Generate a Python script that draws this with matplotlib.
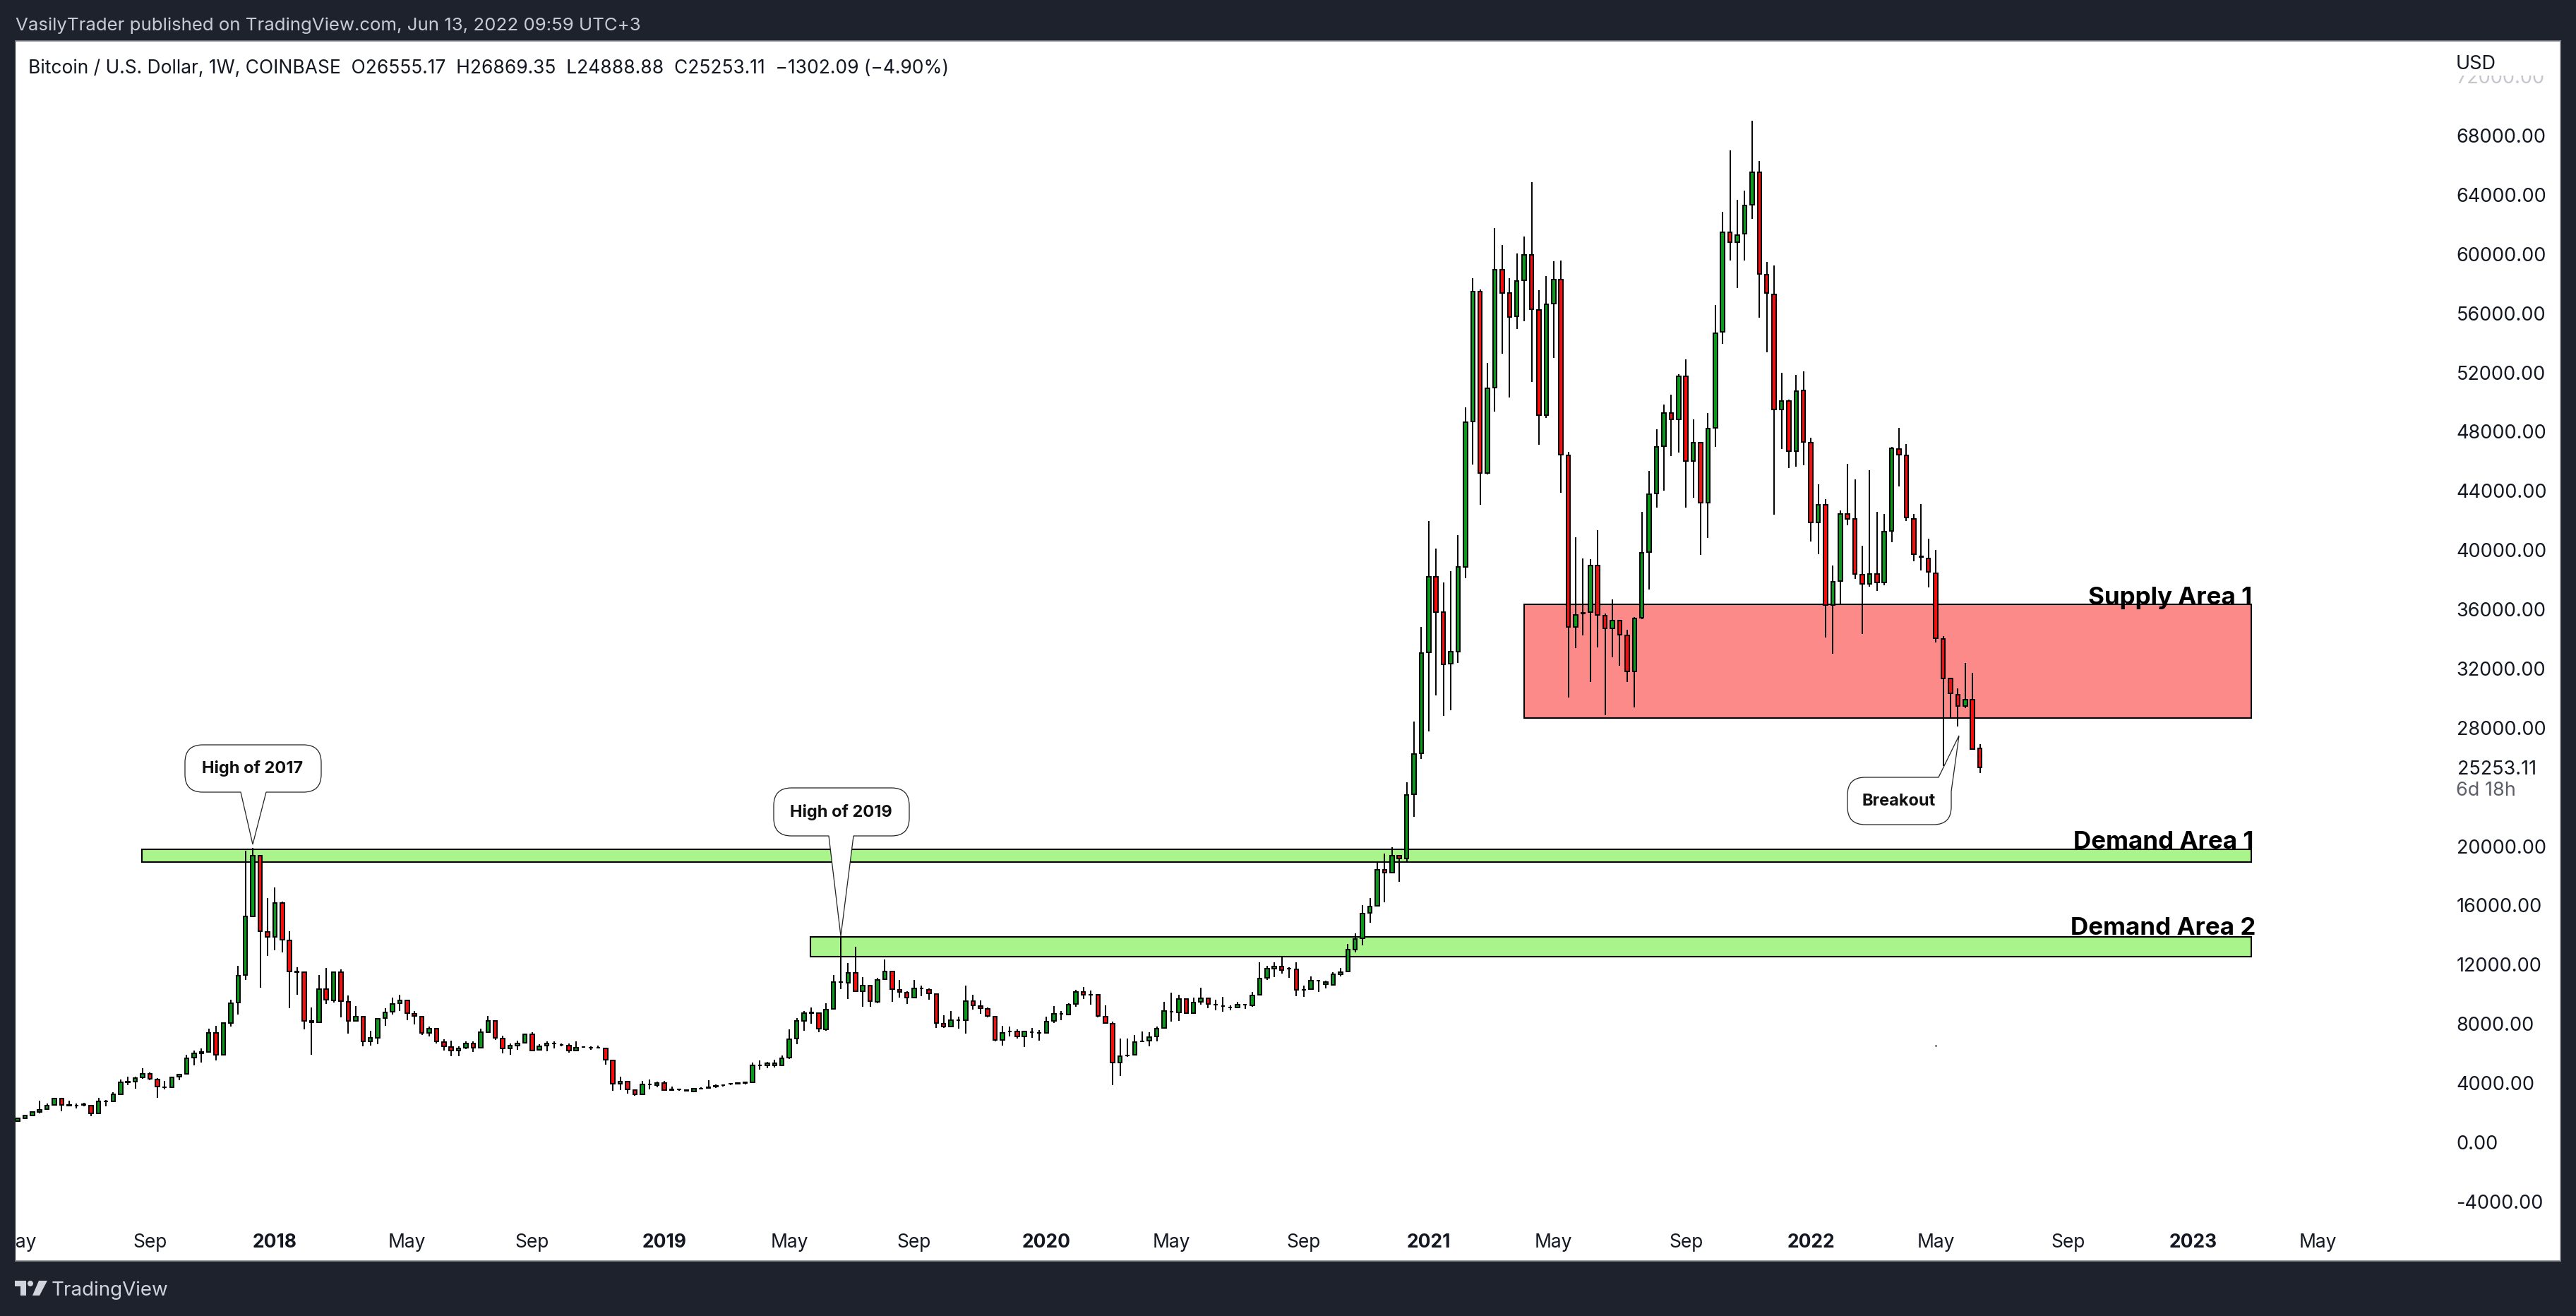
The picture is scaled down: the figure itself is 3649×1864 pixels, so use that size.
import matplotlib
matplotlib.use('Agg')
import matplotlib.pyplot as plt
from matplotlib.patches import Rectangle, PathPatch, Polygon, Circle
from matplotlib.path import Path
from matplotlib.transforms import Affine2D, Bbox

# Weekly candles, BTC/USD
opens = [1370,1550,1750,2020,2210,2470,2920,2470,2450,2490,
         2450,1900,2700,2720,3190,4020,4040,4320,4580,4220,
         3680,3680,4370,4580,5660,5940,6070,7350,5860,7990,
         9390,11240,15230,19330,14180,13820,16140,13590,11480,11460,
         8140,8050,10310,9560,11430,9450,8140,8430,6770,7000,
         8330,8770,9330,9540,8630,8460,7330,7650,6710,6390,
         6150,6320,6640,6340,7410,8160,6980,6300,6470,6670,
         7260,6180,6470,6620,6550,6480,6150,6380,6360,6350,
         6300,5480,3900,4070,3490,3190,3850,3810,3960,3510,
         3520,3430,3370,3580,3650,3740,3800,3890,3930,3950,
         4020,5170,5150,5130,5150,5660,6960,8160,8690,8690,
         7600,8950,10770,10750,11410,10140,10560,9460,10950,11500,
         10260,10070,9710,10340,10270,9970,7970,7790,8220,8200,
         9500,9160,8970,8450,6860,7450,7450,7090,7400,7340,
         7330,8140,8630,8580,9290,10120,9930,9930,8450,7970,
         5340,5810,5860,6770,6840,7090,7670,8780,8710,9610,
         8670,9430,9690,9260,9170,9080,9070,9240,9200,9920,
         11050,11670,11840,11670,11650,10260,10290,10860,10640,10610,
         11310,11480,12990,13730,15440,15930,18360,18160,19330,19140,
         23480,26220,33040,38130,35750,32270,33110,38830,48660,57430,
         45180,50940,58900,57300,55760,58200,59900,56190,49070,56590,
         58230,46360,34750,35680,35780,38930,35520,34680,35180,34180,
         31770,35390,39800,43780,46960,49200,48800,51710,45990,47190,
         43180,48200,54690,61440,60770,61310,63280,65460,58560,57230,
         49470,50000,46660,50740,47230,41840,43010,36250,37860,42380,
         42040,38300,37690,38360,37760,41270,46790,46360,42070,39530,
         39400,38400,33950,31270,30200,29430,29830,26555]
highs = [1620,1830,2070,2770,2560,2940,2960,2770,2580,2600,
         2490,2940,2830,3320,4190,4410,4390,4940,4660,4300,
         4090,4390,4600,5850,6130,6280,7620,7840,8050,9580,
         11860,19650,19850,19360,16460,17160,16230,14200,11800,11500,
         9070,11260,11730,11460,11630,9860,9140,8460,7480,8350,
         8990,9710,9900,9580,8840,8500,7750,7690,6900,6820,
         6450,6750,6750,7650,8480,8220,7130,6650,6820,7280,
         7370,6560,6790,6770,6650,6640,6750,6430,6430,6500,
         6320,5500,4370,4110,3540,4110,4190,4050,4110,3730,
         3600,3510,3640,3680,4130,3860,3880,3960,4020,4050,
         5320,5470,5390,5520,5810,7560,8330,8800,9070,8730,
         9330,11240,13880,12070,13140,11090,10610,11050,12290,11540,
         10900,10160,10900,10520,10330,10010,8540,8820,8450,10520,
         9900,9560,9070,8480,7840,7750,7600,7480,7670,7540,
         8450,9140,8820,9350,10240,10460,10200,9970,9180,8120,
         6940,6940,7220,7450,7410,7790,9430,10070,9900,9670,
         9710,10390,9750,9580,9770,9200,9430,9290,10090,12100,
         11880,12120,12460,11780,12090,10560,11140,10930,10860,11460,
         11730,13330,14070,15970,16460,18850,19440,19870,19380,24250,
         28360,34780,41940,40070,37790,38530,40970,49600,58300,57560,
         52610,61710,60570,58330,59970,61140,64820,57530,58460,59470,
         59530,46590,40840,39400,39330,41300,35690,36620,35250,34580,
         35420,42540,45320,48100,49770,50440,51840,52850,48760,47260,
         49230,56490,62810,66930,63620,64220,68970,66260,59430,59200,
         51940,50140,51810,52040,47530,44380,43410,38900,42640,45790,
         44720,40230,45350,42540,42380,46930,48200,47120,42380,43040,
         40740,39970,34150,31300,30600,32310,31670,26869]
lows = [1340,1510,1700,1900,2150,2450,2070,2390,2260,2390,
        1730,1880,2390,2680,3170,3810,3600,4240,4130,2980,
        3510,3660,4170,4540,5130,5350,6010,5500,5850,7790,
        8600,10930,15180,10410,12520,12930,12800,8990,9940,7560,
        5880,8030,9310,9410,8370,7310,8130,6450,6500,6600,
        7840,8600,8820,8220,7920,7220,7090,6650,6130,5770,
        5770,6240,6050,6320,7370,6880,5960,5860,6220,6650,
        6130,6150,6110,6300,6430,6030,6130,6320,6200,6280,
        5180,3450,3490,3220,3110,3170,3530,3660,3430,3450,
        3410,3370,3350,3540,3600,3640,3710,3810,3860,3860,
        4000,4880,4980,4990,5110,5560,6580,7470,7950,7390,
        7500,8940,10290,9650,10090,9090,9110,9370,10930,9460,
        9730,9290,9670,9840,9580,7670,7690,7750,7640,7310,
        8920,8630,8390,6790,6500,7090,6980,6410,7030,6820,
        7310,8030,8200,8560,9090,9620,9260,8410,7970,3830,
        4450,5710,5850,6750,6450,6750,7650,8130,8160,8650,
        8650,9260,9010,8880,8770,8880,9050,8970,9120,9900,
        10900,11120,11350,11070,9800,9780,10270,10120,10350,10560,
        11180,11440,12800,13240,14800,15870,16180,18100,17570,18950,
        21940,25850,27690,30130,28760,29160,32310,38060,45750,43010,
        45050,49330,53210,50270,54890,55390,51300,47060,48870,52910,
        43810,30000,33310,34180,31040,33380,28800,32710,32140,31040,
        29330,35280,37290,42810,43950,46290,46520,42810,43480,39630,
        40770,46930,53880,59500,57630,59500,62310,55660,53310,42340,
        46760,45490,45590,45690,40540,39670,34050,32940,36250,41640,
        37990,34310,37460,37190,37560,40500,44250,41910,39200,38560,
        37430,33710,25350,28630,28025,29260,26490,24889]
closes = [1550,1750,2020,2150,2450,2920,2470,2450,2430,2510,
          1900,2700,2740,3190,4020,4040,4300,4580,4240,3710,
          3660,4350,4540,5640,5940,6070,7350,5860,7990,9350,
          11220,15220,19330,14200,13820,16120,13630,11480,11460,8140,
          8050,10310,9580,11430,9480,8140,8430,6790,7000,8310,
          8730,9310,9540,8690,8480,7330,7650,6750,6430,6150,
          6300,6640,6340,7370,8160,7000,6300,6470,6640,7240,
          6170,6450,6640,6650,6530,6150,6350,6370,6350,6360,
          5520,3900,4070,3510,3190,3860,3840,3960,3470,3490,
          3510,3470,3560,3600,3630,3760,3810,3910,3950,3990,
          5170,5160,5280,5280,5640,6920,8160,8690,8710,7620,
          8940,10780,10760,11410,10140,10560,9480,10940,11500,10290,
          10110,9730,10350,10330,10010,8010,7790,8220,8210,9500,
          9220,9010,8500,6860,7350,7440,7090,7450,7410,7360,
          8110,8610,8640,9260,10120,9930,9920,8480,7990,5340,
          5790,5830,6730,6790,7070,7640,8820,8790,9610,8670,
          9410,9690,9290,9240,9150,9070,9260,9250,9880,11030,
          11670,11840,11610,11660,10260,10270,10880,10850,10760,11290,
          11460,12970,13690,15400,15890,18360,18180,19330,19120,23420,
          26185,33010,38130,35750,32240,33080,38800,48600,57430,45180,
          50900,58900,57300,55720,58130,59900,56220,49070,56560,58230,
          46390,34750,35590,35700,38930,35590,34680,35180,34250,31770,
          35320,39770,43710,46930,49200,48800,51710,45990,47190,43180,
          48160,54585,61440,60770,61210,63210,65460,58630,57300,49470,
          50000,46660,50670,47260,41810,43010,36250,37830,42380,42040,
          38330,37690,38360,37760,41200,46830,46420,42140,39670,39500,
          38460,34010,31300,30270,29430,29830,26520,25253]
assert len(opens) == len(highs) == len(lows) == len(closes) == 268

# Axis labels. 24000 is not shown, the last price label sits there
price_ticks = [-4000, 0, 4000, 8000, 12000, 16000, 20000, 28000, 32000, 36000, 40000,
               44000, 48000, 52000, 56000, 60000, 64000, 68000, 72000]
time_bars = [0, 18, 35, 53, 70, 88, 105, 122, 140, 157, 175, 192, 209, 227, 244, 261, 279, 296, 313]
time_labels = ['May', 'Sep', '2018', 'May', 'Sep', '2019', 'May', 'Sep', '2020', 'May', 'Sep',
               '2021', 'May', 'Sep', '2022', 'May', 'Sep', '2023', 'May']

# Zones drawn on the chart
zone_names = ['Supply Area 1', 'Demand Area 1', 'Demand Area 2']
zone_lows = [28636, 18884, 12494]
zone_highs = [36266, 19742, 13829]
zone_starts = [205.0, 16.95, 107.9]
zone_end = 303.9
zone_colors = ['#fc8a89', '#a9f58c', '#a9f58c']

W, H = 3649, 1865
DARK = '#1e222d'
UP = '#0a9a1c'
DOWN = '#f90c0c'
FONT = 'Inter'

fig = plt.figure(figsize=(W / 100, H / 100), dpi=100, facecolor=DARK)
# top left pixel coordinates for the page furniture
px = Affine2D().scale(1 / W, -1 / H).translate(0, 1) + fig.transFigure

left, right, top, bottom = 22, 3627, 59, 1787
ax = fig.add_axes([left / W, 1 - bottom / H, (right - left) / W, (bottom - top) / H])
ax.set_xlim(-0.29, 346.0)
ax.set_ylim(-8059, 74344)
for s in ax.spines.values():
    s.set_color('#868993')
    s.set_linewidth(1.2)
ax.spines['left'].set_visible(False)

# zones go under the candles
for name, lo, hi, start, col in zip(zone_names, zone_lows, zone_highs, zone_starts, zone_colors):
    ax.add_patch(Rectangle((start, lo), zone_end - start, hi - lo, facecolor=col,
                           edgecolor='black', linewidth=1.5, zorder=1))

# candles
bars = list(range(len(opens)))
ax.vlines(bars, lows, highs, color='black', linewidth=1.4, zorder=2)
body_low = [min(o, c) for o, c in zip(opens, closes)]
body_size = [abs(c - o) for o, c in zip(opens, closes)]
body_col = [UP if c >= o else DOWN for o, c in zip(opens, closes)]
ax.bar(bars, body_size, bottom=body_low, width=0.53, color=body_col,
       edgecolor='black', linewidth=1.4, zorder=3)
ax.plot([261], [6500], marker='.', markersize=2, color='#555555', zorder=2)

# axis labels sit inside the white panel, like on TradingView
ax.yaxis.tick_right()
ax.set_yticks(price_ticks)
ax.set_yticklabels(['%.2f' % p for p in price_ticks], fontfamily=FONT, fontsize=19.5, color='#131722')
ax.tick_params(axis='y', length=0, pad=-106.2)
ax.set_xticks(time_bars)
ax.set_xticklabels(time_labels, fontfamily=FONT, fontsize=19, color='#131722')
ax.tick_params(axis='x', length=0, pad=-28.5)
for lab in ax.get_xticklabels():
    lab.set_clip_box(ax.bbox)
    lab.set_clip_on(True)
    if lab.get_text().startswith('20'):
        lab.set_fontweight('bold')
# 72000 is half hidden under the USD label
top_lab = ax.get_yticklabels()[-1]
top_lab.set_color('#c4c6cc')
top_lab.set_clip_box(Bbox([[3400, H - bottom], [3627, H - 108]]))
top_lab.set_clip_on(True)


def page_text(x, y, s, **kw):
    kw.setdefault('fontfamily', FONT)
    kw.setdefault('va', 'center')
    fig.text(x, y, s, transform=px, **kw)


def callout(box, pointer, radius=25):
    # rounded box with a pointer coming out of one edge, given in pixels
    x0, y0, x1, y1 = box
    (bx0, by0), tip, (bx1, by1) = pointer
    if by0 == y1:
        verts = [(x0 + radius, y0), (x1 - radius, y0), (x1, y0), (x1, y0 + radius),
                 (x1, y1 - radius), (x1, y1), (x1 - radius, y1),
                 (bx1, by1), tip, (bx0, by0),
                 (x0 + radius, y1), (x0, y1), (x0, y1 - radius),
                 (x0, y0 + radius), (x0, y0), (x0 + radius, y0)]
    else:
        verts = [(x0 + radius, y0), (bx0, by0), tip, (bx1, by1),
                 (x1, y1 - radius), (x1, y1), (x1 - radius, y1),
                 (x0 + radius, y1), (x0, y1), (x0, y1 - radius),
                 (x0, y0 + radius), (x0, y0), (x0 + radius, y0)]
    codes = [Path.MOVETO]
    i = 1
    corners = {(x1, y0), (x1, y1), (x0, y1), (x0, y0)}
    while i < len(verts):
        if verts[i] in corners:
            codes += [Path.CURVE3, Path.CURVE3]
            i += 2
        else:
            codes.append(Path.LINETO)
            i += 1
    fig.add_artist(PathPatch(Path(verts, codes), facecolor='white', edgecolor='#222222',
                             linewidth=0.9, transform=px, zorder=5))


callout((262, 1056, 455, 1123), ((341, 1123), (358, 1197), (377, 1123)))
callout((1096, 1117, 1288, 1185), ((1174, 1185), (1191, 1327), (1209, 1185)))
callout((2617, 1102, 2764, 1169), ((2746, 1102), (2775, 1043), (2764, 1122)))
page_text(358, 1089, 'High of 2017', ha='center', fontsize=17, fontweight='bold', color='#111111', zorder=6)
page_text(1191, 1151, 'High of 2019', ha='center', fontsize=17, fontweight='bold', color='#111111', zorder=6)
page_text(2690, 1135, 'Breakout', ha='center', fontsize=17, fontweight='bold', color='#111111', zorder=6)

# zone names, baseline just above the rectangles
for s, x, y in zip(zone_names, [3190, 3192, 3195], [856, 1202, 1324]):
    page_text(x, y, s, ha='right', va='baseline', fontsize=25.2, fontweight='bold', color='black', zorder=6)

# header and footer
page_text(22, 36, 'VasilyTrader published on TradingView.com, Jun 13, 2022 09:59 UTC+3', fontsize=18.6, color='#c8cad4')
page_text(40, 97, 'Bitcoin / U.S. Dollar, 1W, COINBASE  O26555.17  H26869.35  L24888.88  C25253.11  \u22121302.09 (\u22124.90%)',
          fontsize=19, color='#131722')
page_text(3479, 91, 'USD', fontsize=19.5, color='#131722')
page_text(3481, 1090, '25253.11', fontsize=19.5, color='#131722')
page_text(3479, 1120, '6d 18h', fontsize=19.5, color='#5d606b')

# TradingView logo
logo = '#d1d4dc'
fig.add_artist(Polygon([(21, 1815), (37, 1815), (37, 1836), (29, 1836), (29, 1823), (21, 1823)],
                       closed=True, facecolor=logo, edgecolor='none', transform=px))
fig.add_artist(Circle((43, 1819), 4, facecolor=logo, edgecolor='none', transform=px))
fig.add_artist(Polygon([(55, 1815), (67, 1815), (56, 1836), (46, 1836)], closed=True,
                       facecolor=logo, edgecolor='none', transform=px))
page_text(73, 1828, 'TradingView', fontsize=20, color=logo)

fig.savefig('out.png', dpi=100, facecolor=DARK)
